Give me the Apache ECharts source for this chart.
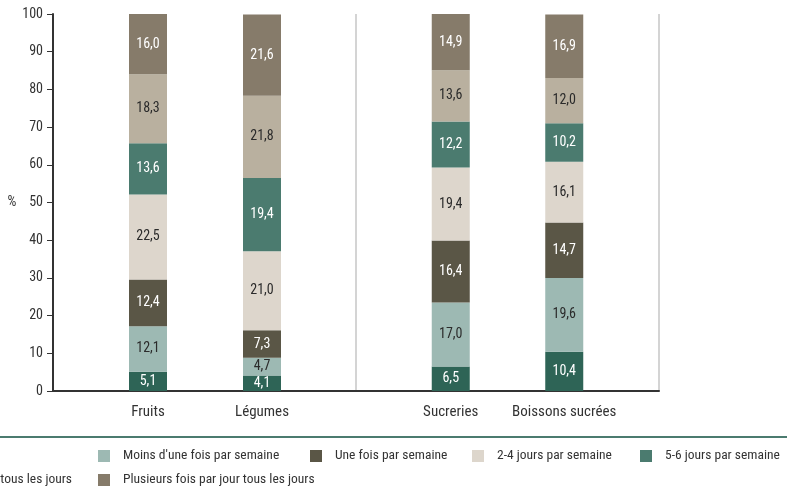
<!DOCTYPE html>
<html>
<head>
<meta charset="utf-8">
<script src="https://cdn.jsdelivr.net/npm/echarts@6/dist/echarts.min.js"></script>
<style>
  html, body { margin: 0; padding: 0; background: #fff; }
  #chart { width: 787px; height: 491px; }
</style>
</head>
<body>
<div id="chart"></div>
<script>
// Food groups, split into two panels
const categories = ['Fruits', 'Légumes', 'Sucreries', 'Boissons sucrées'];

// Frequency of consumption (% of respondents), bottom to top of each stack
const seriesNames = [
  'Jamais',
  "Moins d'une fois par semaine",
  'Une fois par semaine',
  '2-4 jours par semaine',
  '5-6 jours par semaine',
  'Une fois par jour tous les jours',
  'Plusieurs fois par jour tous les jours'
];
const jamais            = [5.1, 4.1, 6.5, 10.4];
const moinsUneFoisSem   = [12.1, 4.7, 17.0, 19.6];
const uneFoisSem        = [12.4, 7.3, 16.4, 14.7];
const deuxQuatreJours   = [22.5, 21.0, 19.4, 16.1];
const cinqSixJours      = [13.6, 19.4, 12.2, 10.2];
const uneFoisJour       = [18.3, 21.8, 13.6, 12.0];
const plusieursFoisJour = [16.0, 21.6, 14.9, 16.9];

const seriesValues = [jamais, moinsUneFoisSem, uneFoisSem, deuxQuatreJours,
                      cinqSixJours, uneFoisJour, plusieursFoisJour];

const colors = ['#2e6456', '#9db9b3', '#5a5646', '#ddd6cc', '#4b7b6f', '#b9b09f', '#867b6a'];
const labelColors = ['#ffffff', '#2b2b2b', '#ffffff', '#2b2b2b', '#ffffff', '#2b2b2b', '#ffffff'];

const FONT = "'Noto Sans ExtraCondensed', 'Noto Sans Condensed', 'Roboto Condensed', 'DejaVu Sans Condensed', sans-serif";

const chart = echarts.init(document.getElementById('chart'), null, { renderer: 'canvas' });

const panels = [
  { grid: 1, cats: categories.slice(0, 2), from: 0 },
  { grid: 2, cats: categories.slice(2, 4), from: 2 }
];

const series = [];
panels.forEach(function (panel) {
  seriesValues.forEach(function (vals, i) {
    series.push({
      name: seriesNames[i],
      type: 'bar',
      xAxisIndex: panel.grid,
      yAxisIndex: panel.grid,
      stack: 'panel' + panel.grid,
      barWidth: 38,
      data: vals.slice(panel.from, panel.from + 2),
      itemStyle: { color: colors[i] },
      label: {
        show: true,
        position: 'inside',
        fontFamily: FONT,
        fontSize: 14,
        color: labelColors[i],
        formatter: function (p) { return p.value.toFixed(1).replace('.', ','); }
      },
      emphasis: { disabled: true },
      animation: false
    });
  });
});

const legendText = { fontFamily: FONT, fontSize: 13.5, color: '#333', padding: [0, 0, 0, 8] };

// One legend block per entry so the columns line up across the two rows
function legendItem(name, pos, top) {
  return Object.assign({
    data: [name], top: top, padding: 0,
    itemWidth: 12, itemHeight: 12, icon: 'rect',
    textStyle: legendText, selectedMode: false
  }, pos);
}

chart.setOption({
  backgroundColor: '#ffffff',
  animation: false,
  textStyle: { fontFamily: FONT },
  grid: [
    { left: 53, right: 128, top: 14, bottom: 100 },
    { left: 91, width: 228, top: 14, bottom: 100 },
    { left: 394, width: 227, top: 14, bottom: 100 }
  ],
  xAxis: [
    {
      gridIndex: 0, type: 'value', min: 0, max: 2, interval: 1,
      axisLabel: { show: false }, axisTick: { show: false },
      axisLine: { show: true, lineStyle: { color: '#333', width: 2 } },
      splitLine: { show: true, lineStyle: { color: '#d4d4d4', width: 2 } }
    },
    {
      gridIndex: 1, type: 'category', data: panels[0].cats,
      axisLine: { show: false }, axisTick: { show: false },
      axisLabel: { interval: 0, fontFamily: FONT, fontSize: 15, color: '#333', margin: 14 }
    },
    {
      gridIndex: 2, type: 'category', data: panels[1].cats,
      axisLine: { show: false }, axisTick: { show: false },
      axisLabel: { interval: 0, fontFamily: FONT, fontSize: 15, color: '#333', margin: 14 }
    }
  ],
  yAxis: [
    {
      gridIndex: 0, type: 'value', min: 0, max: 100, interval: 10,
      name: '%', nameLocation: 'middle', nameRotate: 0, nameGap: 31,
      nameTextStyle: { fontFamily: FONT, fontSize: 14, color: '#333' },
      axisLine: { show: true, lineStyle: { color: '#333', width: 2 } },
      axisTick: { show: true, length: 6, lineStyle: { color: '#333', width: 1 } },
      axisLabel: { fontFamily: FONT, fontSize: 14, color: '#333', margin: 10 },
      splitLine: { show: false }
    },
    { gridIndex: 1, type: 'value', min: 0, max: 100, show: false },
    { gridIndex: 2, type: 'value', min: 0, max: 100, show: false }
  ],
  legend: [
    legendItem(seriesNames[1], { left: 98 }, 449),
    legendItem(seriesNames[2], { left: 310 }, 449),
    legendItem(seriesNames[3], { left: 472 }, 449),
    legendItem(seriesNames[4], { left: 640 }, 449),
    legendItem(seriesNames[6], { left: 98 }, 473),
    legendItem(seriesNames[5], { right: 715 }, 473)
  ],
  graphic: [
    {
      type: 'line', silent: true,
      shape: { x1: 0, y1: 437, x2: 787, y2: 437 },
      style: { stroke: '#4b7b6f', lineWidth: 2 }
    }
  ],
  series: series
});
</script>
</body>
</html>
